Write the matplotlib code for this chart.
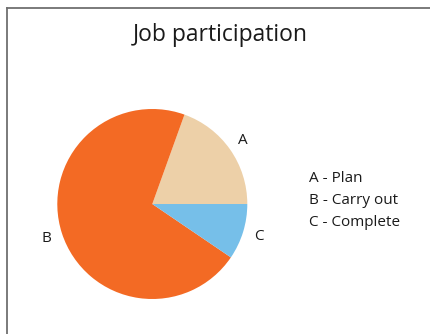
import matplotlib
matplotlib.use("Agg")
import matplotlib.pyplot as plt
from matplotlib.lines import Line2D

plt.rcParams["font.family"] = ["Open Sans", "DejaVu Sans"]

# Share of each job phase (percent)
labels = ["A", "B", "C"]
shares = [19.5, 71.0, 9.5]
colors = ["#EDD0A8", "#F36A24", "#76BFE9"]
legend_lines = ["A - Plan", "B - Carry out", "C - Complete"]

W, H = 431, 334
fig = plt.figure(figsize=(W / 100, H / 100), dpi=100)

# thin frame around the chart area (left and top edges)
x0, y0 = 7.5 / W, 1 - 7.5 / H
frame_kw = dict(color="#707070", linewidth=1.3, transform=fig.transFigure)
fig.add_artist(Line2D([x0, x0], [0, y0], **frame_kw))
fig.add_artist(Line2D([x0, 1], [y0, y0], **frame_kw))

fig.text(220 / W, 1 - 35 / H, "Job participation", ha="center", va="center",
         fontsize=16.5, color="#1a1a1a")

# pie: centre (152, 204) px, radius 95 px
cx, cy, r = 152.3, 204, 95
ax = fig.add_axes([(cx - r) / W, 1 - (cy + r) / H, 2 * r / W, 2 * r / H])
wedges, texts = ax.pie(shares, labels=labels, colors=colors, startangle=0,
                       counterclock=True, labeldistance=1.17,
                       textprops=dict(fontsize=11, color="#1a1a1a"))
for t in texts:
    t.set_ha("center")
    t.set_va("center")
ax.set_xlim(-1, 1)
ax.set_ylim(-1, 1)
ax.set_aspect("equal")
ax.axis("off")

for i, line in enumerate(legend_lines):
    fig.text(309 / W, 1 - (178 + 22.5 * i) / H, line, ha="left", va="center",
             fontsize=11, color="#1a1a1a")

fig.savefig("out.png", dpi=100)
